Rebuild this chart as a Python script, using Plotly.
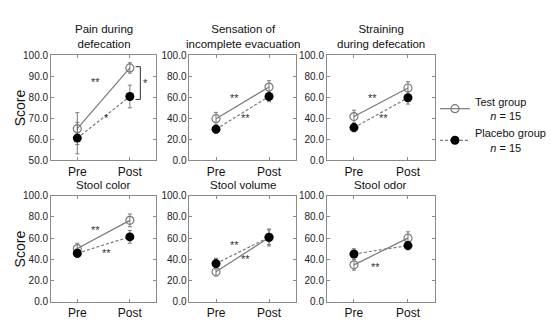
import plotly.graph_objects as go

W, H = 551, 327

phases = ["Pre", "Post"]
titles = ["Pain during<br>defecation", "Sensation of<br>incomplete evacuation",
          "Straining<br>during defecation", "Stool color", "Stool volume", "Stool odor"]
test_mean = [[65.0, 93.9], [39.5, 69.6], [41.5, 68.7], [50.2, 76.8], [28.3, 60.6], [34.8, 60.0]]
test_err = [[7.6, 2.5], [6.0, 6.0], [6.0, 6.0], [5.0, 6.0], [4.0, 8.0], [5.0, 6.0]]
plac_mean = [[60.5, 80.3], [29.5, 60.6], [31.0, 59.4], [45.8, 61.2], [36.0, 60.9], [45.0, 53.0]]
plac_err = [[7.5, 5.4], [4.0, 5.0], [4.0, 6.0], [4.0, 6.0], [5.0, 7.0], [5.0, 4.0]]
y_ranges = [[50, 100], [0, 100], [0, 100], [0, 100], [0, 100], [0, 100]]
y_dticks = [10, 20, 20, 20, 20, 20]
# significance labels: (panel, x, y, text)
sig_marks = [(0, 0.35, 87, "**"), (0, 0.55, 70, "*"),
             (1, 0.35, 59, "**"), (1, 0.55, 40, "**"),
             (2, 0.35, 59, "**"), (2, 0.55, 40, "**"),
             (3, 0.35, 68, "**"), (3, 0.55, 46, "**"),
             (4, 0.35, 54, "**"), (4, 0.55, 40, "**"),
             (5, 0.40, 33, "**")]
bracket = {"x0": 1.11, "x1": 1.2, "y0": 94.5, "y1": 78.9, "label": "*", "lx": 1.29}

# panel pixel boxes (left, right, top, bottom)
cols = [(52, 159), (193, 301), (333, 443)]
rows = [(51, 160), (197, 307)]

GRAY = "#7a7a7a"
AX = "#8a8a8a"
FONT = "Liberation Sans, Arial, sans-serif"

fig = go.Figure()
for i in range(6):
    r, c = divmod(i, 3)
    xl, xr = cols[c]
    yt, yb = rows[r]
    sfx = "" if i == 0 else str(i + 1)
    fig.add_trace(go.Scatter(
        x=[0, 1], y=test_mean[i], mode="lines+markers",
        line=dict(color=GRAY, width=1.2),
        marker=dict(symbol="circle-open", size=8, color=GRAY, line=dict(width=1.2)),
        error_y=dict(type="data", array=test_err[i], color=GRAY, thickness=1, width=2),
        name="Test group<br>     <i>n</i> = 15", showlegend=(i == 0), legendgroup="t",
        xaxis="x" + sfx, yaxis="y" + sfx))
    fig.add_trace(go.Scatter(
        x=[0, 1], y=plac_mean[i], mode="lines+markers",
        line=dict(color=GRAY, width=1.2, dash="3px,2px"),
        marker=dict(symbol="circle", size=9, color="black"),
        error_y=dict(type="data", array=plac_err[i], color=GRAY, thickness=1, width=2),
        name="Placebo group<br>     <i>n</i> = 15", showlegend=(i == 0), legendgroup="p",
        xaxis="x" + sfx, yaxis="y" + sfx))
    fig.layout["xaxis" + sfx] = dict(
        domain=[xl / W, xr / W], anchor="y" + sfx, range=[-0.5, 1.5],
        tickvals=[0, 1], ticktext=phases, ticks="inside", ticklen=3, tickcolor=AX,
        showline=True, linecolor=AX, linewidth=1, mirror="ticks", showgrid=False,
        zeroline=False, tickfont=dict(size=12, color="#111", family=FONT))
    fig.layout["yaxis" + sfx] = dict(
        domain=[1 - yb / H, 1 - yt / H], anchor="x" + sfx, range=y_ranges[i],
        dtick=y_dticks[i], tickformat=".1f", ticks="inside", ticklen=3, tickcolor=AX,
        showline=True, linecolor=AX, linewidth=1, mirror="ticks", showgrid=False,
        zeroline=False, tickfont=dict(size=10, color="#222", family=FONT))
    fig.add_annotation(text=titles[i], xref="paper", yref="paper",
                       x=(xl + xr) / 2 / W, y=1 - yt / H, xanchor="center", yanchor="bottom",
                       yshift=3, showarrow=False,
                       font=dict(size=11.5, color="#111", family=FONT))

for (p, x, y, t) in sig_marks:
    sfx = "" if p == 0 else str(p + 1)
    fig.add_annotation(text=t, x=x, y=y, xref="x" + sfx, yref="y" + sfx, showarrow=False,
                       font=dict(size=11, color="#333", family=FONT))

b = bracket
fig.add_shape(type="path", xref="x", yref="y",
              path=f"M {b['x0']},{b['y0']} L {b['x1']},{b['y0']} L {b['x1']},{b['y1']} L {b['x0']},{b['y1']}",
              line=dict(color="#333", width=1))
fig.add_annotation(text=b["label"], x=b["lx"], y=(b["y0"] + b["y1"]) / 2, xref="x", yref="y",
                   showarrow=False, font=dict(size=11, color="#333", family=FONT))

for yc in [(51 + 160) / 2, (197 + 307) / 2]:
    fig.add_annotation(text="Score", xref="paper", yref="paper", x=20 / W, y=1 - yc / H,
                       textangle=-90, showarrow=False, xanchor="center", yanchor="middle",
                       font=dict(size=14, color="#111", family=FONT))

fig.update_layout(
    width=W, height=H, margin=dict(l=0, r=0, t=0, b=0),
    paper_bgcolor="white", plot_bgcolor="white", showlegend=True,
    legend=dict(x=443 / W, y=1 - 85 / H, xanchor="left", yanchor="top",
                font=dict(size=11, color="#111", family=FONT),
                bgcolor="rgba(0,0,0,0)", tracegroupgap=0, itemwidth=30),
)
fig.write_html("out.html")
